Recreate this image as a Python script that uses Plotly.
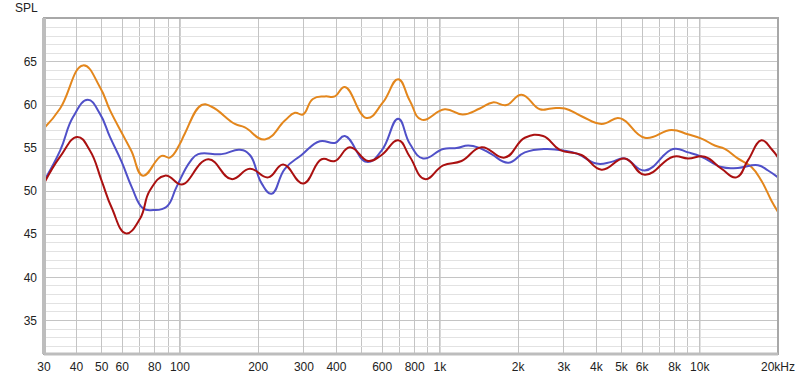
import plotly.graph_objects as go

# ---- data (frequency in Hz, level in dB SPL) ----
orange_f = [30, 34.6, 42.4, 49.2, 53.8, 60.9, 65.2, 72.1, 85.0, 91.5, 100, 104.5, 121.2, 132.4,
            162.7, 177.8, 212.3, 253.4, 276.9, 297.2, 324.7, 361.2, 394.6, 431.2, 522.6, 603.8,
            691.4, 766.5, 850.4, 1045, 1226, 1425, 1599, 1805, 2062, 2425, 2690, 3026, 3508,
            4188, 4837, 5144, 6144, 7784, 8990, 10150, 11420, 12480, 14000, 15810, 17270,
            18870, 20000]
orange_db = [57.3, 59.6, 64.6, 62.1, 59.4, 56.3, 54.6, 51.8, 54.1, 53.9, 55.5, 56.7, 60.0, 59.8,
             57.8, 57.4, 56.0, 58.2, 59.1, 58.9, 60.7, 61.0, 61.0, 62.1, 58.5, 60.3,
             63.0, 60.5, 58.3, 59.5, 58.9, 59.6, 60.3, 60.0, 61.2, 59.5, 59.6, 59.6, 58.7,
             57.8, 58.5, 58.2, 56.2, 57.1, 56.6, 56.1, 55.3, 54.9, 53.8, 52.8, 51.2,
             48.9, 47.6]

blue_f = [30, 34.6, 38.8, 44.2, 49.2, 53.8, 59.7, 65.2, 72.2, 79.0, 88.9, 97.1, 109.3, 117.6,
          144.7, 170.1, 185.8, 206.2, 225.3, 253.4, 293.8, 345.5, 394.6, 431.2, 522.6, 596.9,
          691.4, 766.5, 862.5, 1030, 1159, 1285, 1425, 1580, 1831, 2123, 2534, 3026, 3403,
          4006, 4575, 5144, 6144, 7894, 9016, 10150, 12120, 14020, 16750, 18310, 20000]
blue_db = [51.2, 54.7, 58.6, 60.6, 59.0, 56.3, 53.4, 50.5, 48.0, 47.8, 48.2, 50.5, 53.4, 54.3,
           54.3, 54.8, 54.2, 50.9, 49.7, 52.6, 54.2, 55.8, 55.6, 56.4, 53.4, 54.7,
           58.4, 55.5, 53.8, 54.9, 55.0, 55.3, 55.0, 54.3, 53.3, 54.5, 54.9, 54.7, 54.3,
           53.2, 53.4, 53.8, 52.4, 54.9, 54.5, 54.0, 52.8, 52.7, 53.0, 52.4, 51.6]

red_f = [30, 34.6, 40.3, 45.1, 50.0, 54.6, 62.0, 70.2, 76.7, 87.6, 100, 104.5, 128.5, 158.0,
         185.8, 218.6, 249.6, 298.0, 350.8, 394.6, 450.7, 530.0, 596.9, 691.4, 766.5, 875.5,
         1030, 1212, 1447, 1778, 2123, 2496, 2894, 3508, 4188, 5144, 6144, 7894, 9016,
         10450, 12120, 13840, 15340, 17270, 18870, 20000]
red_db = [50.9, 54.0, 56.3, 54.7, 51.2, 48.1, 45.1, 46.8, 50.1, 51.8, 50.8, 50.9, 53.7, 51.4,
          52.6, 51.6, 53.1, 50.9, 53.7, 53.5, 55.1, 53.5, 54.2, 55.9, 54.0, 51.4,
          53.0, 53.5, 55.1, 53.9, 56.2, 56.4, 54.8, 54.2, 52.5, 53.8, 51.9, 54.0, 53.8,
          54.0, 52.6, 51.6, 53.6, 55.9, 54.9, 53.9]

x_tickvals = [30, 40, 50, 60, 80, 100, 200, 300, 400, 600, 800, 1000, 2000, 3000, 4000, 5000,
              6000, 8000, 10000, 20000]
x_ticktext = ["30", "40", "50", "60", "80", "100", "200", "300", "400", "600", "800", "1k",
              "2k", "3k", "4k", "5k", "6k", "8k", "10k", "20kHz"]
x_minor_vals = [70, 90, 500, 700, 900, 7000, 9000]
decades = [100, 1000, 10000]
y_tickvals = [35, 40, 45, 50, 55, 60, 65]

FONT = "Liberation Sans, Arial, sans-serif"

fig = go.Figure()
for f, d, c in [(orange_f, orange_db, "#e3861c"),
                (blue_f, blue_db, "#5050c8"),
                (red_f, red_db, "#aa1010")]:
    fig.add_trace(go.Scatter(x=f, y=d, mode="lines",
                             line=dict(color=c, width=2, shape="spline", smoothing=1.3),
                             hoverinfo="skip", showlegend=False))

shapes = []
for dv in decades:
    shapes.append(dict(type="line", xref="x", yref="paper", x0=dv, x1=dv, y0=0, y1=1,
                       line=dict(color="#8a8a8a", width=1), layer="below"))
# bevelled frame
shapes.append(dict(type="rect", xref="paper", yref="paper", x0=0, x1=1, y0=0, y1=1,
                   line=dict(color="#a8a8a8", width=2), layer="above"))
shapes.append(dict(type="line", xref="paper", yref="paper", x0=0, x1=0, y0=0, y1=1,
                   line=dict(color="#bdbdbd", width=4), layer="above"))
shapes.append(dict(type="line", xref="paper", yref="paper", x0=0, x1=1, y0=0, y1=0,
                   line=dict(color="#bdbdbd", width=3), layer="above"))

fig.update_layout(
    width=800, height=378,
    margin=dict(l=44, r=22, t=18, b=24, pad=0, autoexpand=False),
    paper_bgcolor="white", plot_bgcolor="white",
    font=dict(family=FONT, size=12, color="#222222"),
    shapes=shapes,
    hovermode=False,
    xaxis=dict(type="log", range=[1.4771, 4.3010], automargin=False,
               tickmode="array", tickvals=x_tickvals, ticktext=x_ticktext,
               showgrid=True, gridcolor="#c4c4c4", gridwidth=1,
               minor=dict(tickmode="array", tickvals=x_minor_vals, showgrid=True,
                          gridcolor="#c4c4c4", gridwidth=1, ticks=""),
               ticks="", showline=False, zeroline=False,
               tickfont=dict(family=FONT, size=12, color="#222222"),
               ticklabelstandoff=4),
    yaxis=dict(range=[31.1, 70.1], tickmode="array", tickvals=y_tickvals, automargin=False,
               showgrid=True, gridcolor="#c4c4c4", gridwidth=1,
               minor=dict(dtick=1, showgrid=True, gridcolor="#e2e2e2", gridwidth=1, ticks=""),
               ticks="", showline=False, zeroline=False,
               tickfont=dict(family=FONT, size=12, color="#222222"),
               ticklabelstandoff=6),
    annotations=[dict(text="SPL", xref="paper", yref="paper", x=-0.005, y=1.0,
                      xanchor="right", yanchor="bottom", yshift=1, showarrow=False,
                      font=dict(family=FONT, size=12, color="#222222"))],
)

# remove the browser's default 8px body margin so the 800x378 figure fills the window
fig.write_html("out.html",
               config={"displayModeBar": False, "staticPlot": True},
               post_script="document.body.style.margin='0px';document.body.style.overflow='hidden';")
